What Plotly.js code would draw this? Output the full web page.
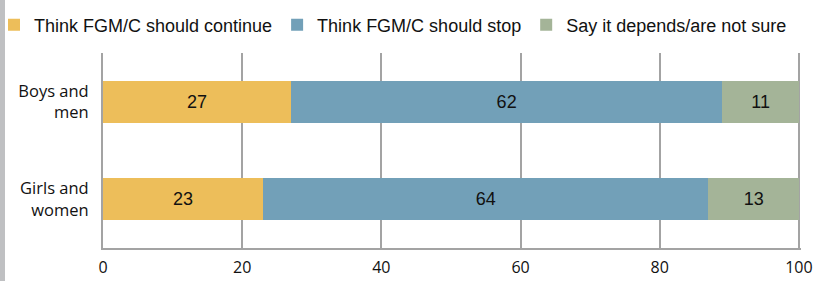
<!DOCTYPE html>
<html>
<head>
<meta charset="utf-8">
<script src="https://cdn.plot.ly/plotly-3.0.1.min.js"></script>
<style>
html,body{margin:0;padding:0;background:#fff;}
#chart{width:823px;height:281px;}
</style>
</head>
<body>
<div id="chart"></div>
<script>
var categories = ["Girls and<br>women", "Boys and<br>men"];
var seriesNames = ["Think FGM/C should continue", "Think FGM/C should stop", "Say it depends/are not sure"];
var shouldContinue = [23, 27];
var shouldStop = [64, 62];
var notSure = [13, 11];
var tickValues = [0, 20, 40, 60, 80, 100];
var tickLabels = ["0", "20", "40", "60", "80", "100"];
var colors = ["#EDBE5A", "#72A0B8", "#A4B498"];

var W = 823, H = 281;
var mL = 103, mR = 22, mT = 53, mB = 33;
var pw = W - mL - mR, ph = H - mT - mB;

function mk(vals, i) {
  return {
    type: 'bar', orientation: 'h',
    x: vals, y: categories, name: seriesNames[i],
    marker: {color: colors[i], line: {width: 0}},
    text: vals.map(String), textposition: 'inside', insidetextanchor: 'middle',
    textfont: {family: 'Liberation Sans, Arial, sans-serif', size: 18, color: '#111'},
    hoverinfo: 'x+name'
  };
}
var data = [mk(shouldContinue, 0), mk(shouldStop, 1), mk(notSure, 2)];

var layout = {
  width: W, height: H,
  margin: {l: mL, r: mR, t: mT, b: mB, pad: 0, autoexpand: false},
  barmode: 'stack', bargap: 0.574,
  paper_bgcolor: '#fff', plot_bgcolor: '#fff',
  showlegend: true,
  legend: {
    orientation: 'h',
    x: -(mL + 6) / pw, xanchor: 'left', y: 1 + (mT - 25) / ph, yanchor: 'middle',
    font: {family: 'Liberation Sans, Arial, sans-serif', size: 18, color: '#111'},
    traceorder: 'normal', itemclick: false, bgcolor: 'rgba(0,0,0,0)'
  },
  xaxis: {
    range: [0, 100.3], tickvals: tickValues, ticktext: tickLabels,
    showgrid: true, gridcolor: '#a3a3a3', gridwidth: 2,
    showline: true, linecolor: '#a3a3a3', linewidth: 2,
    zeroline: false, ticks: '', ticklabelstandoff: 4, automargin: false,
    tickfont: {family: 'Open Sans, sans-serif', size: 16, color: '#111'},
    fixedrange: true
  },
  yaxis: {
    type: 'category', showgrid: false, automargin: false,
    showline: true, linecolor: '#a3a3a3', linewidth: 2,
    zeroline: false, ticks: '', ticklabelstandoff: 9,
    tickfont: {family: 'Open Sans, sans-serif', size: 16.5, color: '#111'},
    fixedrange: true
  },
  shapes: [{
    type: 'rect', xref: 'paper', yref: 'paper',
    x0: -mL / pw, x1: -(mL - 5) / pw, y0: -mB / ph - 0.05, y1: 1 + mT / ph + 0.05,
    fillcolor: '#bfc0c2', line: {width: 0}, layer: 'above'
  }]
};

Plotly.newPlot('chart', data, layout, {displayModeBar: false, staticPlot: true});
</script>
</body>
</html>
